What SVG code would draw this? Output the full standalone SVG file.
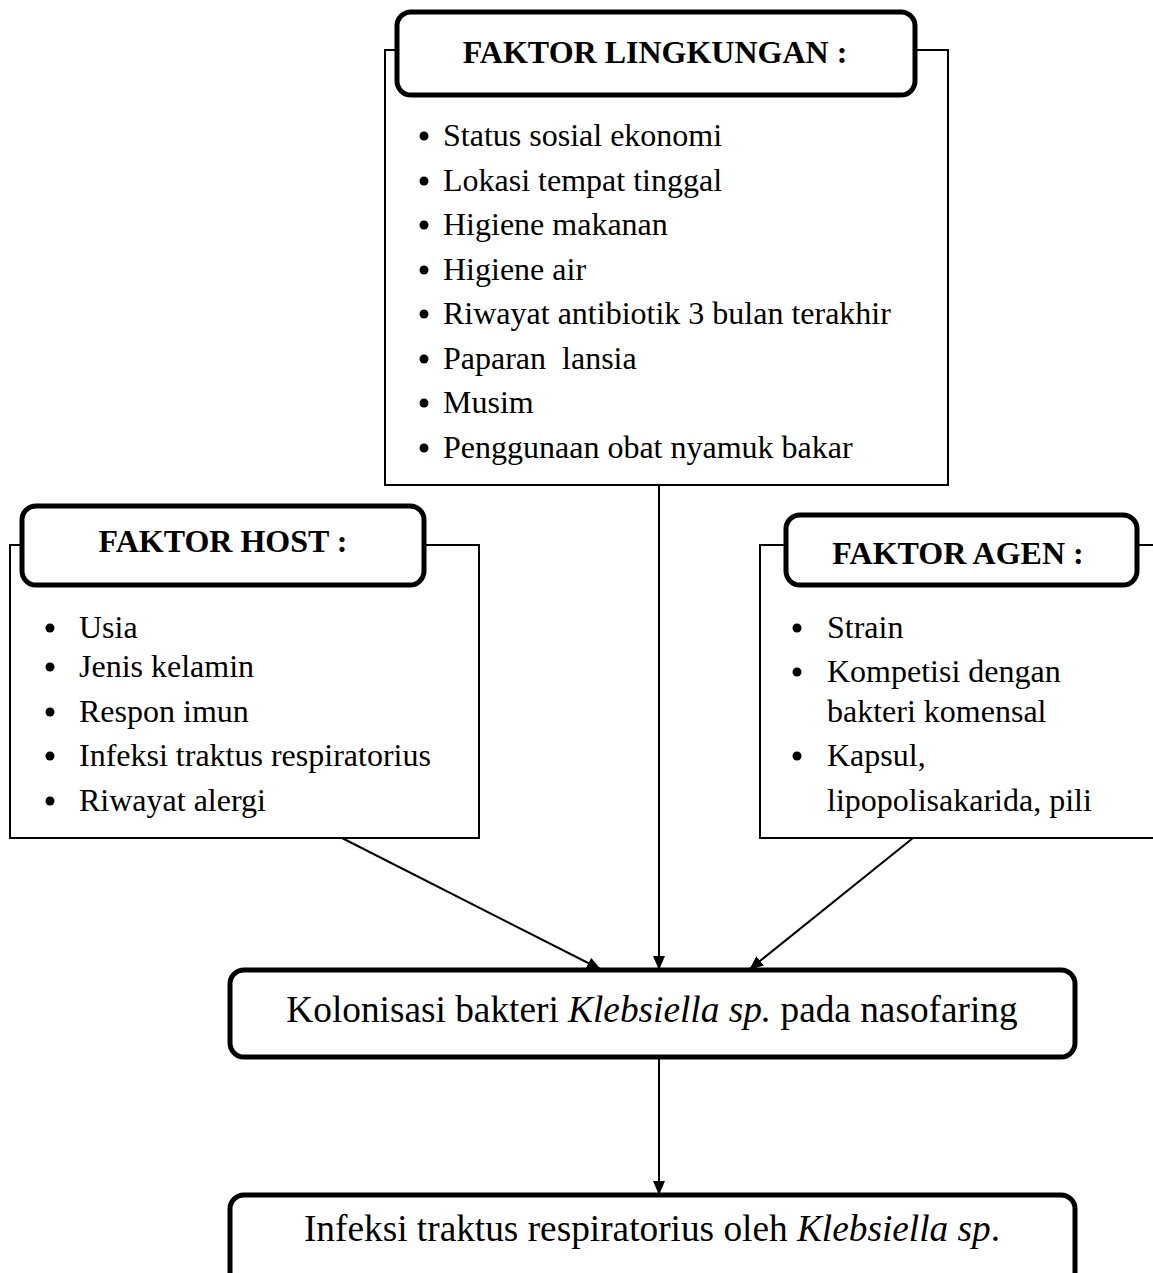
<svg xmlns="http://www.w3.org/2000/svg" width="1153" height="1273" viewBox="0 0 1153 1273">
<style>
.outer{fill:#fff;stroke:#000;stroke-width:2}
.hdr{fill:#fff;stroke:#000;stroke-width:5}
.ht{font-family:"Liberation Serif","Times New Roman",serif;font-size:32px;font-weight:bold;fill:#000;text-anchor:middle}
.it{font-family:"Liberation Serif","Times New Roman",serif;font-size:32px;fill:#000}
.big{font-family:"Liberation Serif","Times New Roman",serif;font-size:37.3px;fill:#000;text-anchor:middle}
.b{fill:#000}
.conn{stroke:#000;stroke-width:2;fill:none;marker-end:url(#ah)}
</style>
<defs>
<marker id="ah" markerWidth="14" markerHeight="12" refX="13" refY="6" orient="auto" markerUnits="userSpaceOnUse">
<path d="M0,0 L14,6 L0,12 Z" fill="#000"/>
</marker>
</defs>
<rect width="1153" height="1273" fill="#fff"/>

<g id="lingkungan">
<rect class="outer" x="385" y="50" width="563" height="435"/>
<rect class="hdr" x="397" y="12" width="518" height="83" rx="14"/>
<text class="ht" x="655" y="63">FAKTOR LINGKUNGAN :</text>
<circle class="b" cx="424" cy="136" r="4.5"/><text class="it" x="443" y="146">Status sosial ekonomi</text>
<circle class="b" cx="424" cy="181" r="4.5"/><text class="it" x="443" y="191">Lokasi tempat tinggal</text>
<circle class="b" cx="424" cy="225" r="4.5"/><text class="it" x="443" y="235">Higiene makanan</text>
<circle class="b" cx="424" cy="270" r="4.5"/><text class="it" x="443" y="280">Higiene air</text>
<circle class="b" cx="424" cy="314" r="4.5"/><text class="it" x="443" y="324">Riwayat antibiotik 3 bulan terakhir</text>
<circle class="b" cx="424" cy="359" r="4.5"/><text class="it" x="443" y="369" xml:space="preserve">Paparan  lansia</text>
<circle class="b" cx="424" cy="403" r="4.5"/><text class="it" x="443" y="413">Musim</text>
<circle class="b" cx="424" cy="448" r="4.5"/><text class="it" x="443" y="458">Penggunaan obat nyamuk bakar</text>
</g>

<g id="host">
<rect class="outer" x="10" y="545" width="469" height="293"/>
<rect class="hdr" x="22" y="506" width="402" height="79" rx="14"/>
<text class="ht" x="223" y="552">FAKTOR HOST :</text>
<circle class="b" cx="50" cy="628" r="4.5"/><text class="it" x="79" y="638">Usia</text>
<circle class="b" cx="50" cy="667" r="4.5"/><text class="it" x="79" y="677">Jenis kelamin</text>
<circle class="b" cx="50" cy="712" r="4.5"/><text class="it" x="79" y="722">Respon imun</text>
<circle class="b" cx="50" cy="756" r="4.5"/><text class="it" x="79" y="766">Infeksi traktus respiratorius</text>
<circle class="b" cx="50" cy="801" r="4.5"/><text class="it" x="79" y="811">Riwayat alergi</text>
</g>

<g id="agen">
<rect class="outer" x="760" y="545" width="400" height="293"/>
<rect class="hdr" x="786" y="515" width="351" height="70" rx="14"/>
<text class="ht" x="958" y="564">FAKTOR AGEN :</text>
<circle class="b" cx="797" cy="628" r="4.5"/><text class="it" x="827" y="638">Strain</text>
<circle class="b" cx="797" cy="672" r="4.5"/><text class="it" x="827" y="682">Kompetisi dengan</text>
<text class="it" x="827" y="722">bakteri komensal</text>
<circle class="b" cx="797" cy="756" r="4.5"/><text class="it" x="827" y="766">Kapsul,</text>
<text class="it" x="827" y="811">lipopolisakarida, pili</text>
</g>

<g id="kolonisasi">
<rect class="hdr" x="230" y="970" width="845" height="87" rx="14"/>
<text class="big" x="652" y="1022">Kolonisasi bakteri <tspan font-style="italic">Klebsiella sp.</tspan> pada nasofaring</text>
</g>

<g id="infeksi">
<rect class="hdr" x="230" y="1195" width="845" height="95" rx="14"/>
<text class="big" x="652" y="1241">Infeksi traktus respiratorius oleh <tspan font-style="italic">Klebsiella sp</tspan>.</text>
</g>

<g id="connectors">
<line class="conn" x1="342" y1="838" x2="600" y2="969"/>
<line class="conn" x1="659" y1="485" x2="659" y2="969"/>
<line class="conn" x1="913" y1="838" x2="750" y2="969"/>
<line class="conn" x1="659" y1="1057" x2="659" y2="1194"/>
</g>
</svg>
